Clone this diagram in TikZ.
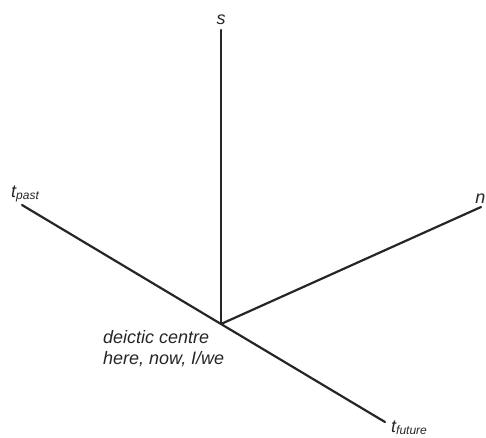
\documentclass[tikz,border=0pt]{standalone}
\usepackage{fontspec}
\setmainfont{Liberation Sans}
\newcommand{\tsub}[1]{t{\fontsize{12}{12}\selectfont\raisebox{-0.45ex}{#1}}}
\begin{document}
\begin{tikzpicture}[x=1pt,y=-1pt,line cap=round,
  axis/.style={line width=2.2pt,draw=black!85},
  lbl/.style={font=\fontsize{18}{21.5}\selectfont\itshape,inner sep=0pt,text=black!85}]
  \useasboundingbox (0,0) rectangle (486,437);
  \coordinate (o) at (221,324);
  \coordinate (s end) at (221,30);
  \coordinate (past end) at (22,205);
  \coordinate (future end) at (385,422);
  \coordinate (n end) at (481,207);
  \draw[axis] (o) -- (s end);
  \draw[axis] (past end) -- (o) -- (future end);
  \draw[axis] (o) -- (n end);
  \node[lbl,anchor=base] (s) at (221,24) {s};
  \node[lbl,anchor=base west] (tpast) at (11,197) {\tsub{past}};
  \node[lbl,anchor=base west] (tfuture) at (391,432) {\tsub{future}};
  \node[lbl,anchor=base east] (n) at (485.5,203) {n};
  \node[lbl,align=left,anchor=north west] (centre) at (103,330) {deictic centre\\here, now, I/we};
\end{tikzpicture}
\end{document}
